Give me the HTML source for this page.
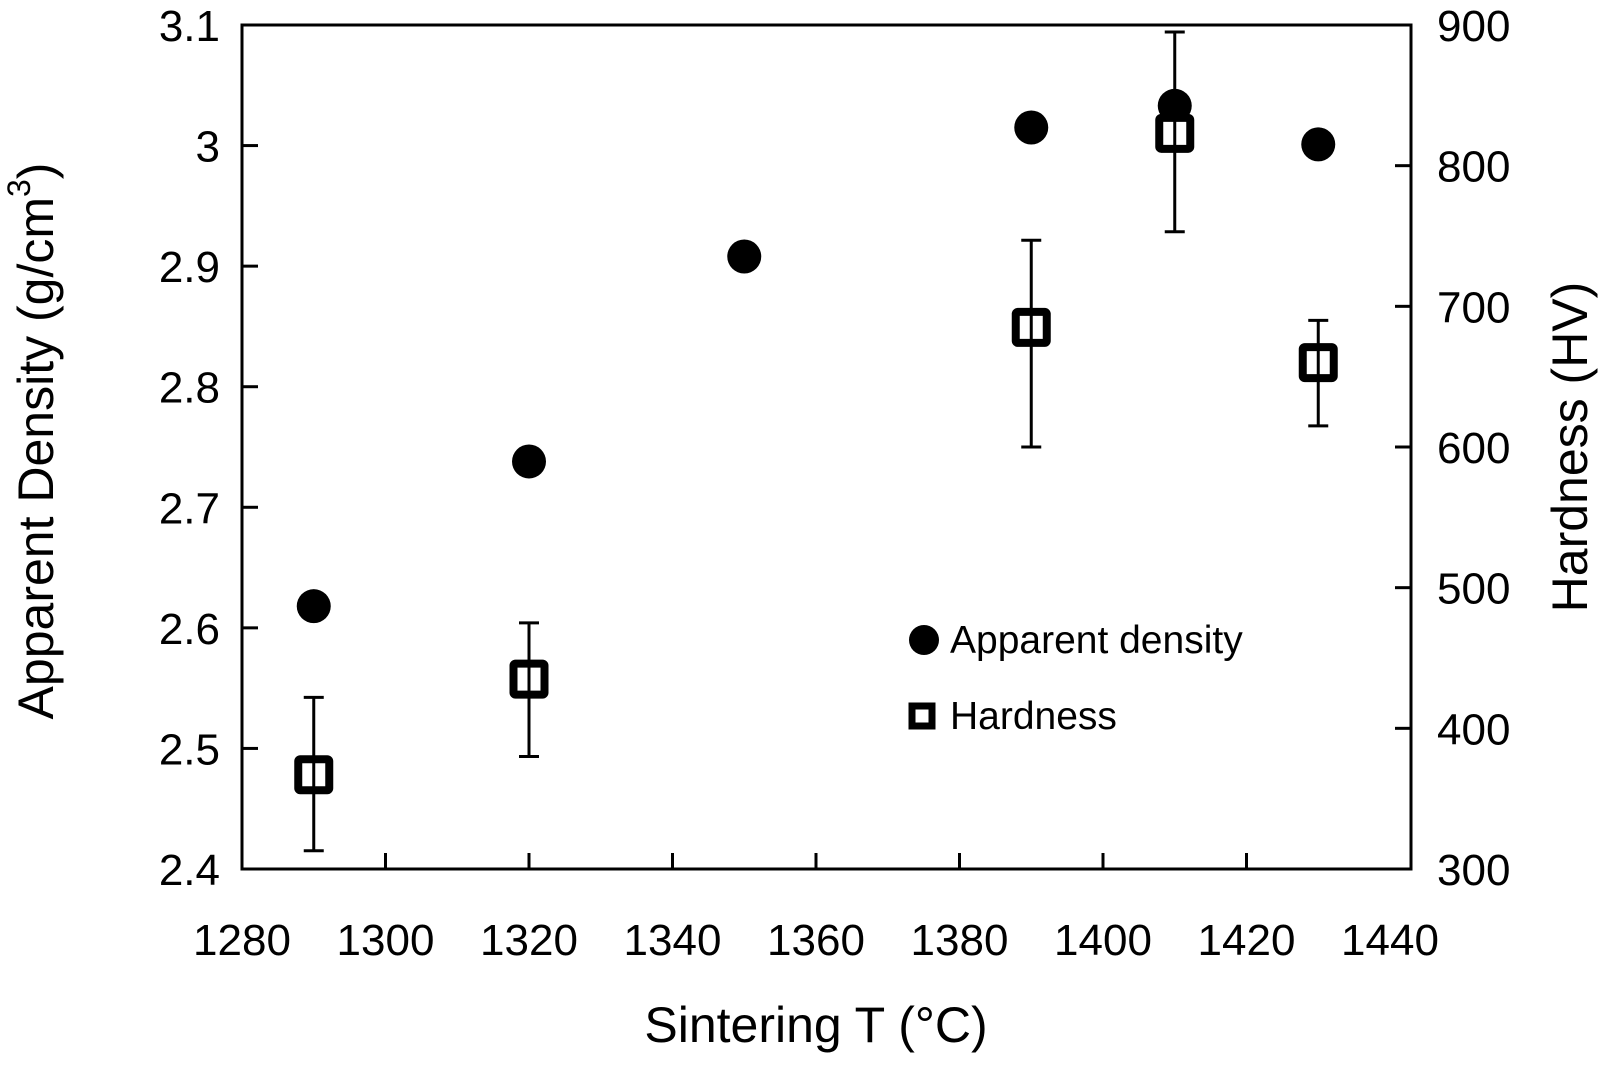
<!DOCTYPE html>
<html><head><meta charset="utf-8"><style>
html,body{margin:0;padding:0;background:#fff;}
svg text{font-family:"Liberation Sans",sans-serif;fill:#000;}
</style></head><body>
<svg id="chart" width="1610" height="1062" viewBox="0 0 1610 1062" xmlns="http://www.w3.org/2000/svg">
<g id="axes"></g>
<g id="marks"></g>
<text x="40" y="441" font-size="50" text-anchor="middle" dominant-baseline="middle" transform="rotate(-90 40 441)">Apparent Density (g/cm<tspan font-size="32" dy="-18">3</tspan><tspan dy="18">)</tspan></text>
<text x="1574" y="447" font-size="50" text-anchor="middle" dominant-baseline="middle" transform="rotate(-90 1574 447)">Hardness (HV)</text>
<text x="816" y="1042" font-size="50" text-anchor="middle">Sintering T (°C)</text>
<g>
<circle cx="924" cy="640" r="15" fill="#000"></circle>
<text x="950" y="653" font-size="39">Apparent density</text>
<rect x="912" y="706" width="20" height="20" fill="#fff" stroke="#000" stroke-width="7"></rect>
<text x="950" y="729" font-size="39">Hardness</text>
</g>
</svg>
<script>
const xTicks = [1280,1300,1320,1340,1360,1380,1400,1420,1440];
const yLeftTicks = ["2.4","2.5","2.6","2.7","2.8","2.9","3","3.1"];
const yRightTicks = [300,400,500,600,700,800,900];
const densityT = [1290,1320,1350,1390,1410,1430];
const densityV = [2.618,2.738,2.908,3.015,3.033,3.001];
const hardT = [1290,1320,1390,1410,1430];
const hardV = [367,435,685,823,660];
const hardLo = [313,380,600,753,615];
const hardHi = [422,475,747,895,690];

const L=242,R=1390,T=25,B=869,FR=1411;
const sx=v=>L+(v-1280)/160*(R-L);
const syL=v=>B-(v-2.4)/0.7*(B-T);
const syR=v=>B-(v-300)/600*(B-T);
const NS='http://www.w3.org/2000/svg';
function mk(tag,attrs,parent){const e=document.createElementNS(NS,tag);for(const k in attrs)e.setAttribute(k,attrs[k]);parent.appendChild(e);return e;}
const axes=document.getElementById('axes'), marks=document.getElementById('marks');

const frame=mk('rect',{x:L,y:T,width:FR-L,height:B-T,fill:'none',stroke:'#000','stroke-width':3},axes);



xTicks.forEach((t,i)=>{
  const x=sx(t);
  if(i>0&&i<xTicks.length-1){const tk=mk('line',{x1:x,x2:x,y1:B,y2:B-16,stroke:'#000','stroke-width':3},axes);
  
  }
  const lb=mk('text',{x:x,y:955,'font-size':44,'text-anchor':'middle'},axes);lb.textContent=t;
  
  
});
yLeftTicks.forEach(t=>{
  const y=syL(parseFloat(t));
  if(y>T+1&&y<B-1){const tk=mk('line',{x1:L,x2:L+16,y1:y,y2:y,stroke:'#000','stroke-width':3},axes);
  
  }
  const lb=mk('text',{x:220,y:y+16,'font-size':44,'text-anchor':'end'},axes);lb.textContent=t;
  
  
});
yRightTicks.forEach(t=>{
  const y=syR(t);
  if(y>T+1&&y<B-1){const tk=mk('line',{x1:FR,x2:FR-16,y1:y,y2:y,stroke:'#000','stroke-width':3},axes);
  
  }
  const lb=mk('text',{x:1437,y:y+16,'font-size':44,'text-anchor':'start'},axes);lb.textContent=t;
  
  
});

densityT.forEach((t,i)=>{
  const c=mk('circle',{cx:sx(t),cy:syL(densityV[i]),r:17,fill:'#000'},marks);
  
  
});
hardT.forEach((t,i)=>{
  const x=sx(t),y1=syR(hardLo[i]),y2=syR(hardHi[i]);
  const eb=mk('path',{d:`M${x},${y1}V${y2}M${x-10},${y1}H${x+10}M${x-10},${y2}H${x+10}`,stroke:'#000','stroke-width':3,fill:'none'},marks);
  
  
  const y=syR(hardV[i]);
  const s=mk('rect',{x:x-15.5,y:y-15.5,width:31,height:31,rx:2,fill:'#fff',stroke:'#000','stroke-width':8},marks);
  
  
  const l=mk('line',{x1:x,x2:x,y1:y-12,y2:y+12,stroke:'#000','stroke-width':3},marks);
  
  
});
</script>
</body></html>
